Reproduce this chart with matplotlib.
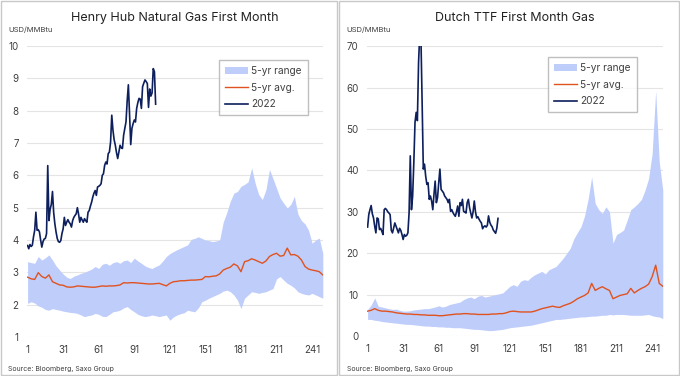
import numpy as np
import matplotlib
matplotlib.use("Agg")
import matplotlib.pyplot as plt
from matplotlib.patches import Rectangle

plt.rcParams['font.family'] = ['Inter', 'DejaVu Sans']

# ---- Henry Hub (USD/MMBtu) ----
hh_2022 = [3.83, 3.73, 3.86, 3.80, 3.84, 4.10, 4.30, 4.86, 4.30, 4.32,
           4.25, 4.00, 3.78, 3.95, 4.03, 4.05, 4.20, 6.30, 4.60, 4.95,
           5.10, 5.50, 4.85, 4.50, 4.25, 4.05, 3.95, 3.93, 3.98, 4.20,
           4.35, 4.70, 4.45, 4.55, 4.63, 4.55, 4.50, 4.40, 4.60, 4.70,
           4.76, 4.81, 5.00, 4.80, 4.55, 4.70, 4.62, 4.55, 4.66, 4.60,
           4.55, 4.86, 4.91, 5.05, 5.17, 5.33, 5.45, 5.53, 5.38, 5.64,
           5.66, 5.69, 5.74, 6.00, 6.05, 6.31, 6.41, 6.35, 6.67, 6.72,
           7.03, 7.86, 7.40, 7.10, 6.93, 6.70, 6.52, 6.72, 6.93, 6.85,
           6.83, 7.24, 7.45, 7.65, 8.30, 8.80, 7.90, 6.95, 7.45, 7.60,
           7.71, 7.65, 8.07, 8.25, 8.38, 8.36, 8.07, 8.74, 8.85, 8.95,
           8.90, 8.84, 8.10, 8.67, 8.45, 8.55, 9.30, 9.20, 8.20]

hh_high = [3.33, 3.30, 3.28, 3.49, 3.38, 3.45, 3.54, 3.38, 3.20, 3.07,
           2.95, 2.85, 2.81, 2.88, 2.92, 2.97, 3.00, 3.05, 3.10, 3.18,
           3.12, 3.25, 3.28, 3.22, 3.30, 3.33, 3.28, 3.36, 3.38, 3.30,
           3.44, 3.35, 3.28, 3.20, 3.15, 3.12, 3.18, 3.23, 3.35, 3.49,
           3.58, 3.64, 3.70, 3.75, 3.80, 3.85, 4.02, 4.05, 4.10, 4.05,
           4.00, 3.98, 3.95, 3.97, 4.00, 4.55, 4.85, 5.20, 5.45, 5.50,
           5.66, 5.72, 5.80, 6.23, 5.75, 5.40, 5.25, 5.55, 6.18, 5.90,
           5.60, 5.30, 5.14, 4.99, 5.10, 5.35, 4.80, 4.60, 4.50, 4.30,
           3.90, 4.00, 4.06, 3.59]

hh_low = [2.04, 2.09, 2.05, 1.96, 1.92, 1.85, 1.83, 1.88, 1.85, 1.83,
          1.80, 1.78, 1.76, 1.75, 1.73, 1.68, 1.63, 1.66, 1.68, 1.73,
          1.70, 1.64, 1.63, 1.70, 1.78, 1.80, 1.83, 1.90, 1.94, 1.85,
          1.78, 1.70, 1.66, 1.63, 1.65, 1.68, 1.66, 1.63, 1.66, 1.68,
          1.52, 1.62, 1.68, 1.72, 1.75, 1.83, 1.80, 1.78, 1.90, 2.09,
          2.14, 2.20, 2.25, 2.30, 2.35, 2.42, 2.45, 2.40, 2.30, 2.14,
          1.88, 2.20, 2.30, 2.40, 2.38, 2.35, 2.38, 2.40, 2.45, 2.50,
          2.80, 2.87, 2.76, 2.66, 2.60, 2.52, 2.40, 2.35, 2.32, 2.30,
          2.35, 2.30, 2.25, 2.20]

hh_avg = [2.85, 2.80, 2.78, 2.99, 2.87, 2.82, 2.92, 2.71, 2.66, 2.61,
          2.60, 2.55, 2.54, 2.55, 2.58, 2.57, 2.56, 2.55, 2.54, 2.54,
          2.56, 2.58, 2.57, 2.58, 2.58, 2.59, 2.61, 2.68, 2.67, 2.68,
          2.68, 2.67, 2.66, 2.65, 2.64, 2.64, 2.65, 2.66, 2.62, 2.58,
          2.66, 2.71, 2.72, 2.74, 2.74, 2.75, 2.76, 2.76, 2.77, 2.78,
          2.87, 2.86, 2.88, 2.89, 2.95, 3.07, 3.12, 3.16, 3.26, 3.20,
          3.02, 3.33, 3.36, 3.42, 3.38, 3.33, 3.28, 3.35, 3.49, 3.55,
          3.59, 3.50, 3.52, 3.75, 3.54, 3.55, 3.50, 3.38, 3.18, 3.10,
          3.07, 3.05, 3.02, 2.92]

# ---- Dutch TTF (USD/MMBtu) ----
ttf_2022 = [26.3, 29.3, 30.5, 31.5, 29.5, 28.5, 26.5, 24.9, 28.5, 28.3,
            25.7, 26.0, 25.3, 24.5, 30.5, 30.8, 30.5, 30.0, 29.7, 29.3,
            25.5, 24.9, 26.1, 27.3, 26.5, 25.7, 24.9, 26.0, 25.5, 24.5,
            23.3, 24.5, 24.1, 24.3, 24.9, 29.7, 43.5, 30.5, 33.8, 41.9,
            51.6, 54.0, 52.0, 66.1, 73.0, 72.0, 56.4, 40.3, 41.5, 38.6,
            36.6, 37.0, 33.0, 33.8, 32.6, 30.5, 34.2, 37.4, 32.2, 33.4,
            37.0, 40.3, 35.4, 35.0, 34.6, 33.8, 33.4, 33.0, 32.2, 33.0,
            30.1, 30.5, 29.8, 29.3, 28.9, 30.0, 31.4, 28.9, 32.2, 31.5,
            33.0, 30.1, 29.9, 29.7, 32.2, 33.0, 31.0, 29.7, 28.5, 30.0,
            32.6, 30.0, 28.5, 28.8, 28.2, 27.7, 27.3, 25.9, 26.4, 26.6,
            26.3, 26.7, 29.0, 27.5, 26.8, 26.4, 25.6, 25.2, 24.8, 26.0,
            28.4]

ttf_high = [6.4, 7.5, 9.2, 7.2, 7.0, 6.8, 6.6, 6.4, 6.5, 6.2,
            6.0, 6.0, 6.1, 6.3, 6.4, 6.5, 6.6, 6.6, 6.8, 7.0,
            7.3, 7.0, 7.2, 7.6, 7.8, 8.0, 8.2, 8.8, 9.2, 9.4,
            9.0, 9.6, 9.8, 9.4, 9.6, 9.8, 10.0, 10.2, 10.4, 11.2,
            12.0, 12.4, 12.0, 13.2, 13.6, 13.4, 14.2, 14.8, 15.2, 15.6,
            15.0, 16.0, 16.4, 16.8, 17.8, 18.8, 20.0, 21.2, 23.5, 25.0,
            26.4, 29.0, 33.0, 38.4, 32.0, 30.5, 29.6, 31.2, 30.0, 22.4,
            24.5, 25.0, 25.6, 28.0, 30.5, 31.2, 32.0, 33.0, 35.2, 38.0,
            44.0, 59.2, 42.0, 35.2]

ttf_low = [4.0, 4.0, 3.8, 3.7, 3.5, 3.4, 3.3, 3.2, 3.1, 3.0,
           2.9, 2.8, 2.8, 2.7, 2.6, 2.5, 2.4, 2.4, 2.3, 2.3,
           2.2, 2.2, 2.1, 2.1, 2.0, 2.0, 2.0, 1.9, 1.8, 1.7,
           1.6, 1.6, 1.5, 1.4, 1.3, 1.3, 1.4, 1.5, 1.6, 1.8,
           2.0, 2.1, 2.2, 2.3, 2.4, 2.5, 2.6, 2.8, 3.0, 3.2,
           3.4, 3.6, 3.8, 4.0, 4.0, 4.1, 4.2, 4.3, 4.4, 4.5,
           4.6, 4.6, 4.7, 4.8, 4.8, 4.9, 5.0, 5.0, 5.2, 5.1,
           5.2, 5.2, 5.2, 5.1, 5.0, 5.0, 5.0, 5.0, 5.1, 5.2,
           4.9, 4.7, 4.6, 4.2]

ttf_avg = [6.0, 6.2, 6.6, 6.2, 6.0, 6.0, 5.9, 5.8, 5.6, 5.5,
           5.4, 5.3, 5.3, 5.2, 5.2, 5.1, 5.1, 5.0, 5.0, 5.0,
           4.9, 4.9, 5.0, 5.1, 5.2, 5.3, 5.3, 5.4, 5.4, 5.3,
           5.3, 5.2, 5.2, 5.2, 5.2, 5.3, 5.3, 5.4, 5.4, 5.6,
           5.9, 6.0, 5.9, 5.8, 5.8, 5.8, 5.8, 6.0, 6.3, 6.6,
           6.8, 7.0, 7.2, 7.0, 6.9, 7.3, 7.6, 7.9, 8.4, 9.0,
           9.4, 9.8, 10.4, 12.7, 11.0, 11.5, 11.9, 11.4, 11.0, 9.0,
           9.4, 9.8, 10.0, 10.2, 11.5, 10.4, 11.0, 11.5, 11.9, 12.5,
           14.3, 17.1, 12.7, 12.0]

xticks = [1, 31, 61, 91, 121, 151, 181, 211, 241]

RANGE_C = '#bfcdfb'
AVG_C = '#e0531f'
LINE_C = '#0d1f5c'
TXT_C = '#404040'
GRID_C = '#e4e4e4'

fig = plt.figure(figsize=(6.8, 3.76), dpi=100)


def panel(rect, title, cur, hi, lo, avg, ylim, yticks, leg_anchor):
    ax = fig.add_axes(rect)
    band_x = np.arange(1, 1 + 3 * len(hi), 3)
    ax.fill_between(band_x, lo, hi, color=RANGE_C, lw=0, label='5-yr range')
    ax.plot(band_x, avg, color=AVG_C, lw=1.0, label='5-yr avg.')
    ax.plot(np.arange(1, len(cur) + 1), cur, color=LINE_C, lw=1.2, label='2022')
    ax.set_xlim(0.5, 250)
    ax.set_ylim(*ylim)
    ax.set_yticks(yticks)
    ax.set_xticks(xticks)
    ax.grid(axis='y', color=GRID_C, lw=0.8)
    ax.set_axisbelow(True)
    for s in ax.spines.values():
        s.set_visible(False)
    ax.tick_params(length=0, labelsize=7, colors=TXT_C, pad=6)
    ax.set_title(title, fontsize=9, color='#222222', pad=18)
    leg = ax.legend(loc='upper left', bbox_to_anchor=leg_anchor, fontsize=7.3,
                    frameon=True, fancybox=False, borderpad=0.6, borderaxespad=0,
                    labelspacing=0.65, handlelength=2.3, handletextpad=0.3,
                    labelcolor=TXT_C)
    leg.get_frame().set_edgecolor('#b0b0b0')
    leg.get_frame().set_linewidth(1.0)
    return ax


ax1 = panel([0.0397, 0.1037, 0.435, 0.774], 'Henry Hub Natural Gas First Month',
            hh_2022, hh_high, hh_low, hh_avg, (1, 10), range(1, 11), (0.649, 0.952))
ax2 = panel([0.5397, 0.1064, 0.435, 0.771], 'Dutch TTF First Month Gas',
            ttf_2022, ttf_high, ttf_low, ttf_avg, (0, 70), range(0, 71, 10), (0.611, 0.962))

for x0 in (0.012, 0.51):
    fig.text(x0, 0.922, 'USD/MMBtu', fontsize=5.5, color=TXT_C, va='center')
    fig.text(x0, 0.018, 'Source: Bloomberg, Saxo Group', fontsize=5, color=TXT_C, va='center')

fig.patches.append(Rectangle((0.001, 0.003), 0.494, 0.994, transform=fig.transFigure,
                             fill=False, ec='#c8c8c8', lw=1.0))
fig.patches.append(Rectangle((0.4985, 0.003), 0.5, 0.994, transform=fig.transFigure,
                             fill=False, ec='#c8c8c8', lw=1.0))

fig.savefig('out.png', dpi=100)
